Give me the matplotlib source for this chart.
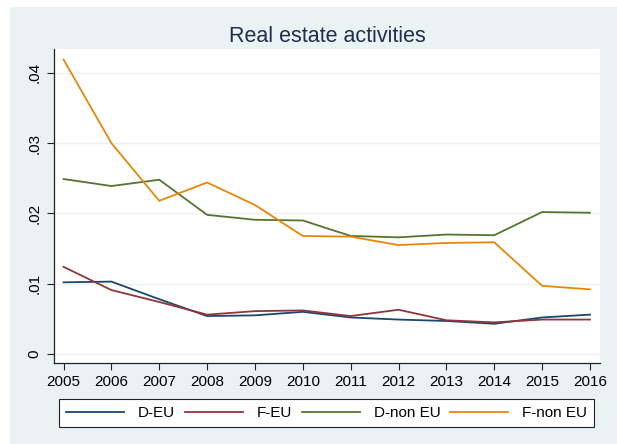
import matplotlib
matplotlib.use("Agg")
import matplotlib.pyplot as plt
import matplotlib.patches as mp

plt.rcParams["font.family"] = ["Liberation Sans", "DejaVu Sans"]

years = [2005, 2006, 2007, 2008, 2009, 2010, 2011, 2012, 2013, 2014, 2015, 2016]

d_eu = [.0102, .0103, .0078, .0054, .0055, .0060, .0052, .0049, .0047, .0043, .0052, .0056]
f_eu = [.0124, .0091, .0074, .0056, .0061, .0062, .0054, .0063, .0048, .0045, .0049, .0049]
d_noneu = [.0249, .0239, .0248, .0198, .0191, .0190, .0168, .0166, .0170, .0169, .0202, .0201]
f_noneu = [.0419, .0300, .0218, .0244, .0212, .0168, .0167, .0155, .0158, .0159, .0097, .0092]

yticks = [0, .01, .02, .03, .04]
yticklabels = ["0", ".01", ".02", ".03", ".04"]

series = [
    ("D-EU", d_eu, "#1a476f"),
    ("F-EU", f_eu, "#90353b"),
    ("D-non EU", d_noneu, "#55752f"),
    ("F-non EU", f_noneu, "#e8860a"),
]

BG = "#eaf2f3"

W, H = 617, 444
fig = plt.figure(figsize=(W / 100, H / 100), dpi=100)
fig.patch.set_facecolor("white")
# graph region, offset a little from the top-left corner
fig.patches.append(mp.Rectangle((10 / W, 0), 1, (H - 7) / H,
                                transform=fig.transFigure, facecolor=BG,
                                edgecolor="none", zorder=-10))

ax = fig.add_axes([53.5 / W, (H - 363) / H, (600 - 53.5) / W, (363 - 49) / H])
ax.set_facecolor("white")

for name, vals, col in series:
    ax.plot(years, vals, color=col, lw=1.3, label=name)

ax.set_xlim(2004.79, 2016.21)
ax.set_ylim(-0.00128, 0.0434)
ax.set_xticks(years)
ax.set_xticklabels([str(y) for y in years], fontsize=11)
ax.set_yticks(yticks)
ax.set_yticklabels(yticklabels, fontsize=11, rotation=90, va="center")
ax.grid(axis="y", color=BG, lw=1.0)
ax.set_axisbelow(True)
ax.tick_params(direction="out", length=5, width=0.8, color="#222222")

for side in ("top", "right"):
    ax.spines[side].set_visible(False)
for side in ("left", "bottom"):
    ax.spines[side].set_color("#222222")
    ax.spines[side].set_linewidth(0.9)

# title centred over the plot region
fig.text(327 / W, (H - 36) / H, "Real estate activities",
         ha="center", va="center", fontsize=15.5, color="#1e2f4f")

leg = ax.legend(loc="lower left", ncol=4, mode="expand",
                bbox_to_anchor=(59 / W, (H - 427) / H, (594 - 59) / W, (427 - 398) / H),
                bbox_transform=fig.transFigure, frameon=True, fancybox=False,
                fontsize=11, handlelength=3.8, handletextpad=0.9,
                borderaxespad=0, borderpad=0.45,
                edgecolor="#222222", facecolor="white", framealpha=1)
leg.get_frame().set_linewidth(0.8)

fig.savefig("out.png", dpi=100)
